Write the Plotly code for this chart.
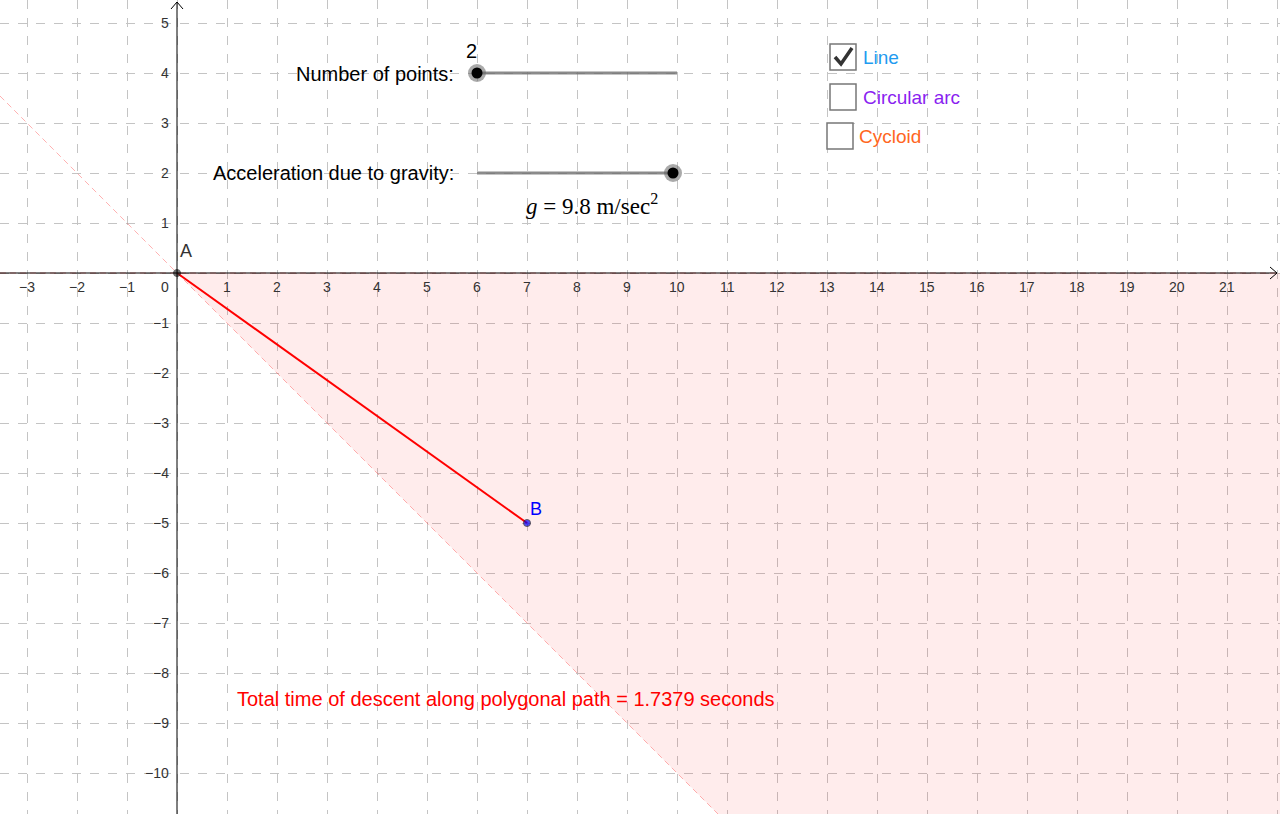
import plotly.graph_objects as go

# --- view window (graphics units) ---
x_min, x_max = -3.54, 22.06
y_min, y_max = -10.82, 5.46

# --- tick labels ---
x_ticks = [t for t in range(-3, 22) if t != 0]
y_ticks = [t for t in range(-10, 6) if t != 0]

# --- points of the polygonal path ---
path_x = [0, 7]
path_y = [0, -5]
point_names = ["A", "B"]

# --- sliders ---
n_points = 2
slider_n_min, slider_n_max = 2, 10
g_value = 9.8
slider_g_min, slider_g_max = 0, 9.8
total_time = 1.7379


def px(x):
    # pixel column -> graph x
    return x_min + x * (x_max - x_min) / 1280


def py(y):
    # pixel row -> graph y
    return y_max - y * (y_max - y_min) / 814


def minus(v):
    return str(v).replace("-", "\u2212")


fig = go.Figure()

# shaded region y <= 0, y >= -x
fig.add_trace(go.Scatter(
    x=[0, x_max, x_max, -y_min, 0],
    y=[0, 0, y_min, y_min, 0],
    fill="toself", fillcolor="rgba(255,0,0,0.075)",
    line=dict(width=0), mode="lines", hoverinfo="skip", showlegend=False
))
# dashed boundaries
fig.add_trace(go.Scatter(
    x=[x_min, -y_min], y=[-x_min, y_min], mode="lines",
    line=dict(color="rgba(255,60,60,0.4)", width=1, dash="6px,4px"),
    hoverinfo="skip", showlegend=False
))

# axes
axis_style = dict(type="line", line=dict(color="black", width=1), layer="above")
fig.add_shape(x0=x_min, x1=px(1277), y0=0, y1=0, **axis_style)
fig.add_shape(x0=0, x1=0, y0=y_min, y1=py(2), **axis_style)
fig.add_shape(type="path", path=f"M {px(1270)},{py(267)} L {px(1277)},{py(273)} L {px(1270)},{py(279)}",
              line=dict(color="black", width=1), layer="above")
fig.add_shape(type="path", path=f"M {px(171)},{py(9)} L {px(177)},{py(2)} L {px(183)},{py(9)}",
              line=dict(color="black", width=1), layer="above")
fig.add_trace(go.Scatter(
    x=[x_min, x_max], y=[0, 0], mode="lines",
    line=dict(color="rgba(255,80,80,0.55)", width=1, dash="6px,4px"),
    hoverinfo="skip", showlegend=False
))

# tick labels
tick_font = dict(size=14, color="#333")
annotations = []
for t in x_ticks:
    annotations.append(dict(x=t, y=py(287), text=minus(t), showarrow=False,
                            font=tick_font, xanchor="center", yanchor="middle"))
annotations.append(dict(x=px(171), y=py(287), text="0", showarrow=False,
                        font=tick_font, xanchor="right", yanchor="middle"))
for t in y_ticks:
    annotations.append(dict(x=px(171), y=t, text=minus(t), showarrow=False,
                            font=tick_font, xanchor="right", yanchor="middle"))

# polygonal path
fig.add_trace(go.Scatter(
    x=path_x, y=path_y, mode="lines", line=dict(color="red", width=2),
    hoverinfo="skip", showlegend=False
))
fig.add_trace(go.Scatter(
    x=path_x, y=path_y, mode="markers",
    marker=dict(size=[7, 7], color=["#333", "blue"], line=dict(color="#222", width=1)),
    hoverinfo="skip", showlegend=False
))
label_lift = [0.2, 0.05]
for name, x, y, c, lift in zip(point_names, path_x, path_y, ["#333", "blue"], label_lift):
    annotations.append(dict(x=x + 0.02, y=y + lift, text=name, showarrow=False,
                            font=dict(size=18, color=c), xanchor="left", yanchor="bottom"))

# sliders
slider_x0, slider_x1 = 6, 10
slider_rows = [4, 2]
knob_x = [
    slider_x0 + (n_points - slider_n_min) / (slider_n_max - slider_n_min) * (slider_x1 - slider_x0),
    slider_x0 + (g_value - slider_g_min) / (slider_g_max - slider_g_min) * (px(673) - slider_x0),
]
for row in slider_rows:
    fig.add_trace(go.Scatter(
        x=[slider_x0, slider_x1 if row == 4 else px(673)], y=[row, row], mode="lines",
        line=dict(color="rgba(110,110,110,0.8)", width=3), hoverinfo="skip", showlegend=False
    ))
fig.add_trace(go.Scatter(
    x=knob_x, y=slider_rows, mode="markers",
    marker=dict(size=18, color="rgba(100,100,100,0.55)"), hoverinfo="skip", showlegend=False
))
fig.add_trace(go.Scatter(
    x=knob_x, y=slider_rows, mode="markers",
    marker=dict(size=11, color="black"), hoverinfo="skip", showlegend=False
))
annotations += [
    dict(x=px(456), y=py(74), text="Number of points:", showarrow=False,
         font=dict(size=20, color="black"), xanchor="right", yanchor="middle"),
    dict(x=knob_x[0] - 0.12, y=py(51), text=str(n_points), showarrow=False,
         font=dict(size=20, color="black"), xanchor="center", yanchor="middle"),
    dict(x=px(456), y=py(173), text="Acceleration due to gravity:", showarrow=False,
         font=dict(size=20, color="black"), xanchor="right", yanchor="middle"),
    dict(x=px(592), y=py(204), text=f"<i>g</i> = {g_value} m/sec<sup>2</sup>", showarrow=False,
         font=dict(size=23, color="black", family="Liberation Serif, DejaVu Serif, serif"),
         xanchor="center", yanchor="middle"),
]

# checkboxes
boxes = [("Line", "#1f9bf0", 843, 57, True, 861),
         ("Circular arc", "#8a1ff0", 843, 97, False, 861),
         ("Cycloid", "#ff6622", 840, 136, False, 857)]
for label, col, bx, by, checked, tx in boxes:
    fig.add_shape(type="rect", x0=px(bx - 13), x1=px(bx + 13), y0=py(by + 13), y1=py(by - 13),
                  line=dict(color="#777", width=1.5), fillcolor="white", layer="above")
    if checked:
        fig.add_shape(type="path",
                      path=f"M {px(bx - 8)},{py(by)} L {px(bx - 2)},{py(by + 7)} L {px(bx + 9)},{py(by - 9)}",
                      line=dict(color="#333", width=3.5), layer="above")
    annotations.append(dict(x=px(tx), y=py(by), text=label, showarrow=False,
                            font=dict(size=19, color=col), xanchor="left", yanchor="middle"))

annotations.append(dict(x=px(235), y=py(699),
                        text=f"Total time of descent along polygonal path = {total_time} seconds",
                        showarrow=False, font=dict(size=20, color="red"),
                        xanchor="left", yanchor="middle"))

grid = dict(showgrid=True, gridcolor="#c4c4c4", griddash="dash", gridwidth=1, dtick=1, tick0=0,
            showticklabels=False, zeroline=False, showline=False, ticks="", fixedrange=True)
fig.update_layout(
    width=1280, height=814,
    margin=dict(l=0, r=0, t=0, b=0),
    paper_bgcolor="white", plot_bgcolor="white",
    font=dict(family="Liberation Sans, Arial, sans-serif"),
    xaxis=dict(range=[x_min, x_max], **grid),
    yaxis=dict(range=[y_min, y_max], **grid),
    annotations=annotations,
    showlegend=False,
)

fig.write_html("out.html", config={"displayModeBar": False},
               post_script="document.body.style.margin='0';document.body.style.overflow='hidden';")
